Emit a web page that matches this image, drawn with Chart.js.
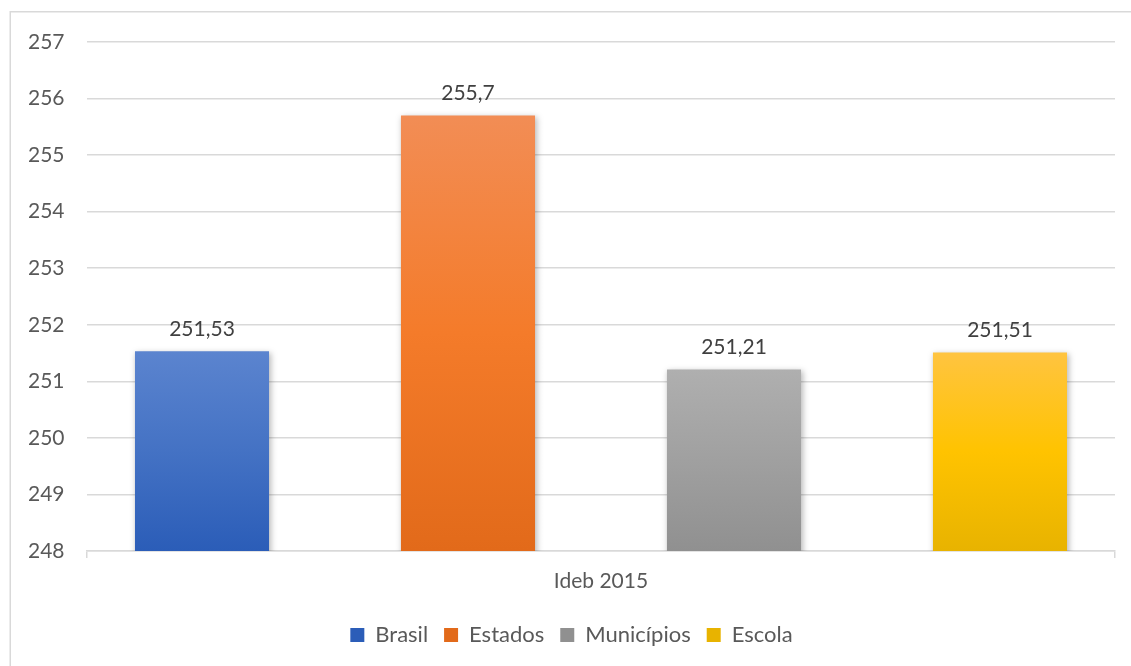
<!DOCTYPE html>
<html>
<head>
<meta charset="utf-8">
<script src="https://cdn.jsdelivr.net/npm/chart.js@4.4.1/dist/chart.umd.min.js"></script>
<style>
  html, body { margin: 0; padding: 0; background: #fff; }
  #wrap { width: 1131px; height: 666px; position: relative; }
</style>
</head>
<body>
<div id="wrap"><canvas id="c" width="1131" height="666"></canvas></div>
<script>
const categories = ['Ideb 2015'];
const seriesNames = ['Brasil', 'Estados', 'Municípios', 'Escola'];
const seriesValues = [251.53, 255.7, 251.21, 251.51];
const yTicks = { min: 248, max: 257, step: 1 };
const gradientStops = [
  ['#5b84cf', '#4472c4', '#2b5db8'],
  ['#f28d55', '#f47b2a', '#e26a1a'],
  ['#afafaf', '#a0a0a0', '#909090'],
  ['#ffc440', '#ffc300', '#e8b300']
];

const FONT = 'Lato, "Open Sans", sans-serif';

function barFill(i) {
  return function (ctx) {
    const stops = gradientStops[i];
    const chart = ctx.chart;
    if (ctx.type !== 'data' || !chart.chartArea) return stops[1];
    const y = chart.scales.y;
    const top = y.getPixelForValue(ctx.raw);
    const bottom = y.getPixelForValue(yTicks.min);
    if (!isFinite(top) || !isFinite(bottom) || top === bottom) return stops[1];
    const g = chart.ctx.createLinearGradient(0, top, 0, bottom);
    g.addColorStop(0, stops[0]);
    g.addColorStop(0.5, stops[1]);
    g.addColorStop(1, stops[2]);
    return g;
  };
}

const frame = {
  id: 'frame',
  beforeDraw(chart) {
    const c = chart.ctx;
    c.save();
    c.fillStyle = '#fff';
    c.fillRect(0, 0, chart.width, chart.height);
    c.strokeStyle = '#d9d9d9';
    c.lineWidth = 1.5;
    c.beginPath();
    c.moveTo(10.25, chart.height);
    c.lineTo(10.25, 11.75);
    c.lineTo(chart.width, 11.75);
    c.stroke();
    c.restore();
  }
};

const shadow = {
  id: 'shadow',
  beforeDatasetsDraw(chart) {
    const c = chart.ctx;
    c.save();
    c.shadowColor = 'rgba(0,0,0,0.28)';
    c.shadowBlur = 6;
    c.shadowOffsetX = 1.5;
    c.shadowOffsetY = 1.5;
  },
  afterDatasetsDraw(chart) {
    chart.ctx.restore();
  }
};

const valueLabels = {
  id: 'valueLabels',
  afterDatasetsDraw(chart) {
    const c = chart.ctx;
    c.save();
    c.font = '21px ' + FONT;
    c.fillStyle = '#404040';
    c.textAlign = 'center';
    c.textBaseline = 'bottom';
    chart.data.datasets.forEach((ds, i) => {
      const meta = chart.getDatasetMeta(i);
      meta.data.forEach((bar, j) => {
        const txt = String(ds.data[j]).replace('.', ',');
        c.fillText(txt, bar.x, bar.y - 12);
      });
    });
    c.restore();
  }
};

new Chart(document.getElementById('c'), {
  type: 'bar',
  data: {
    labels: categories,
    datasets: seriesNames.map((name, i) => ({
      label: name,
      data: [seriesValues[i]],
      backgroundColor: barFill(i),
      borderWidth: 0,
      categoryPercentage: 1.035,
      barPercentage: 0.504
    }))
  },
  options: {
    responsive: false,
    animation: false,
    devicePixelRatio: 1,
    layout: { padding: { left: 28, right: 16, top: 42, bottom: 10 } },
    plugins: {
      legend: {
        position: 'bottom',
        labels: {
          font: { family: FONT, size: 22 },
          color: '#595959',
          boxWidth: 14,
          boxHeight: 14,
          padding: 16
        }
      },
      tooltip: { enabled: false }
    },
    scales: {
      x: {
        offset: true,
        grid: {
          display: true,
          offset: true,
          drawOnChartArea: false,
          drawTicks: true,
          tickLength: 7,
          color: '#d9d9d9',
          lineWidth: 1.5
        },
        border: { display: true, color: '#d9d9d9', width: 1.5 },
        ticks: {
          font: { family: FONT, size: 21 },
          color: '#595959',
          padding: 11
        },
        afterFit(scale) { scale.height = 57; }
      },
      y: {
        min: yTicks.min,
        max: yTicks.max,
        ticks: {
          stepSize: yTicks.step,
          font: { family: FONT, size: 21 },
          color: '#595959',
          crossAlign: 'far',
          padding: 0
        },
        grid: { color: '#d9d9d9', lineWidth: 1.5, drawTicks: false },
        border: { display: false },
        afterFit(scale) { scale.width = 59; }
      }
    }
  },
  plugins: [frame, shadow, valueLabels]
});
</script>
</body>
</html>
